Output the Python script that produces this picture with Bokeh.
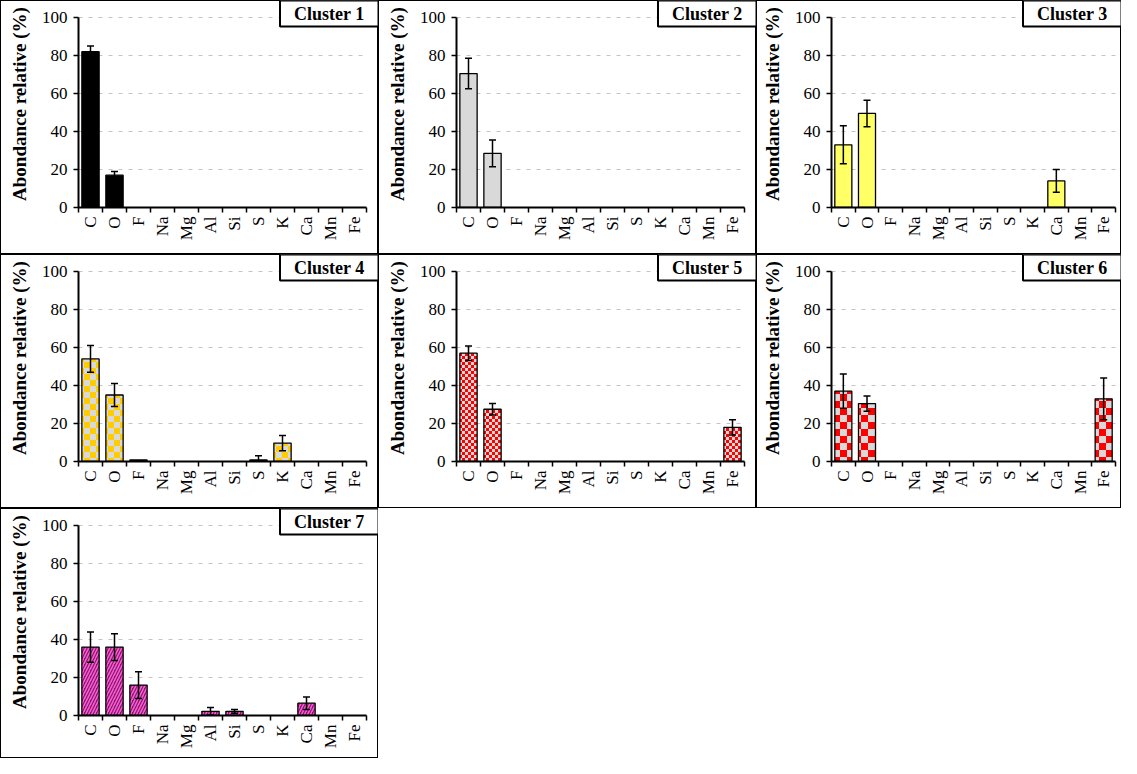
import math
from bokeh.plotting import figure
from bokeh.layouts import column, row
from bokeh.models import (Range1d, FixedTicker, ColumnDataSource, Whisker, TeeHead,
                          Label, CanvasTexture)
from bokeh.core.properties import value
from bokeh.embed import file_html
from bokeh.resources import INLINE

elements = ["C", "O", "F", "Na", "Mg", "Al", "Si", "S", "K", "Ca", "Mn", "Fe"]
cluster_names = ["Cluster 1", "Cluster 2", "Cluster 3", "Cluster 4",
                 "Cluster 5", "Cluster 6", "Cluster 7"]
y_ticks = [0, 20, 40, 60, 80, 100]

c1_values = [82, 17, 0, 0, 0, 0, 0, 0, 0, 0, 0, 0]
c1_errors = [3, 2, 0, 0, 0, 0, 0, 0, 0, 0, 0, 0]
c2_values = [70.5, 28.5, 0, 0, 0, 0, 0, 0, 0, 0, 0, 0]
c2_errors = [8, 7, 0, 0, 0, 0, 0, 0, 0, 0, 0, 0]
c3_values = [33, 49.5, 0, 0, 0, 0, 0, 0, 0, 14, 0, 0]
c3_errors = [10, 7, 0, 0, 0, 0, 0, 0, 0, 6, 0, 0]
c4_values = [54, 35, 0.8, 0, 0, 0, 0, 0.8, 9.7, 0, 0, 0]
c4_errors = [7, 6, 0, 0, 0, 0, 0, 2.2, 4, 0, 0, 0]
c5_values = [57, 27.5, 0, 0, 0, 0, 0, 0, 0, 0, 0, 18]
c5_errors = [3.8, 3, 0, 0, 0, 0, 0, 0, 0, 0, 0, 4]
c6_values = [37, 30.5, 0, 0, 0, 0, 0, 0, 0, 0, 0, 33]
c6_errors = [9, 4, 0, 0, 0, 0, 0, 0, 0, 0, 0, 11]
c7_values = [36, 36, 16, 0, 0, 2.2, 2.2, 0, 0, 6.5, 0, 0]
c7_errors = [8, 7, 7, 0, 0, 2, 1, 0, 0, 3.3, 0, 0]

all_values = [c1_values, c2_values, c3_values, c4_values, c5_values, c6_values, c7_values]
all_errors = [c1_errors, c2_errors, c3_errors, c4_errors, c5_errors, c6_errors, c7_errors]

FONT = "Liberation Serif"


def checker(color, cell):
    return CanvasTexture(code=f"""
const c = {cell};
ctx.canvas.width = 2 * c;
ctx.canvas.height = 2 * c;
ctx.fillStyle = "{color}";
ctx.fillRect(0, 0, c, c);
ctx.fillRect(c, c, c, c);
""")


bar_styles = [
    dict(fill_color="black"),
    dict(fill_color="#d9d9d9"),
    dict(fill_color="#ffff66"),
    dict(fill_color="#d9d9d9", hatch_pattern=value("chk"),
         hatch_extra={"chk": checker("#ffcc00", 6)}, hatch_color="#ffcc00", hatch_scale=12),
    dict(fill_color="#d9d9d9", hatch_pattern=value("chk"),
         hatch_extra={"chk": checker("#ff0000", 3)}, hatch_color="#ff0000", hatch_scale=6),
    dict(fill_color="#d9d9d9", hatch_pattern=value("chk"),
         hatch_extra={"chk": checker("#ff0000", 7)}, hatch_color="#ff0000", hatch_scale=14),
    dict(fill_color="#8e0c7c", hatch_pattern="/", hatch_color="#f262c4",
         hatch_scale=6, hatch_weight=1.6),
]

# panel geometry (pixels)
col_w = [378, 378, 365]
col_left = [78, 78, 75]
col_plot_w = [288, 288, 284]     # width used by the 12 categories
row_h = [254, 254, 250]
row_bottom = [47, 47, 43]
plot_h = 190                      # height used by 0..100


def make_panel(k):
    r, c = divmod(k, 3)
    W, H = col_w[c], row_h[r]
    n = len(elements)
    x_end = n * (W - col_left[c]) / col_plot_w[c]
    y_end = 100 * (H - row_bottom[r]) / plot_h
    p = figure(width=W, height=H, output_backend="svg", toolbar_location=None,
               x_range=Range1d(0, x_end), y_range=Range1d(0, y_end),
               min_border_left=col_left[c], min_border_right=0,
               min_border_top=0, min_border_bottom=row_bottom[r],
               title_location=None)
    p.outline_line_color = None
    p.background_fill_color = None
    p.border_fill_color = None
    p.styles = {"box-shadow": "inset 0 0 0 1px #000000"}

    # dashed horizontal guide lines, limited to the category area
    p.segment(x0=[0] * len(y_ticks), x1=[n] * len(y_ticks), y0=y_ticks, y1=y_ticks,
              line_color="#c4c4c4", line_dash="4 6", line_width=1)

    vals = all_values[k]
    errs = all_errors[k]
    xs = [i + 0.5 for i in range(n)]
    bx = [x for x, v in zip(xs, vals) if v > 0]
    bv = [v for v in vals if v > 0]
    p.vbar(x=bx, top=bv, bottom=0, width=0.72, line_color="black", line_width=1.3,
           **bar_styles[k])

    ex = [x for x, e in zip(xs, errs) if e > 0]
    up = [v + e for v, e in zip(vals, errs) if e > 0]
    lo = [max(v - e, 0) for v, e in zip(vals, errs) if e > 0]
    src = ColumnDataSource(dict(x=ex, upper=up, lower=lo))
    p.add_layout(Whisker(base="x", upper="upper", lower="lower", source=src,
                         level="overlay",
                         line_color="black", line_width=1.5,
                         upper_head=TeeHead(size=7, line_color="black", line_width=1.5),
                         lower_head=TeeHead(size=7, line_color="black", line_width=1.5)))

    # y axis
    p.yaxis.ticker = FixedTicker(ticks=y_ticks)
    p.yaxis.bounds = (0, 100)
    p.yaxis.axis_label = "Abondance relative (%)"
    p.yaxis.axis_label_text_font = FONT
    p.yaxis.axis_label_text_font_style = "bold"
    p.yaxis.axis_label_text_font_size = "19px"
    p.yaxis.axis_label_text_color = "black"
    p.yaxis.axis_label_standoff = 9
    p.yaxis.major_label_text_font = FONT
    p.yaxis.major_label_text_font_size = "17px"
    p.yaxis.major_label_text_color = "black"
    p.yaxis.major_label_standoff = 6
    p.yaxis.axis_line_color = "black"
    p.yaxis.axis_line_width = 2
    p.yaxis.major_tick_line_color = "black"
    p.yaxis.major_tick_line_width = 1.5
    p.yaxis.major_tick_out = 5
    p.yaxis.major_tick_in = 0
    p.yaxis.minor_tick_line_color = None

    # x axis: labels at category centres, ticks between categories
    p.xaxis.ticker = FixedTicker(ticks=xs, minor_ticks=list(range(n + 1)))
    p.xaxis.bounds = (0, n)
    p.xaxis.major_label_overrides = {x: el for x, el in zip(xs, elements)}
    p.xaxis.major_label_orientation = math.pi / 2
    p.xaxis.major_label_text_font = FONT
    p.xaxis.major_label_text_font_size = "17px"
    p.xaxis.major_label_text_color = "black"
    p.xaxis.major_label_standoff = 3
    p.xaxis.major_tick_line_color = None
    p.xaxis.minor_tick_line_color = "black"
    p.xaxis.minor_tick_line_width = 1.5
    p.xaxis.minor_tick_out = 5
    p.xaxis.minor_tick_in = 0
    p.xaxis.axis_line_color = "black"
    p.xaxis.axis_line_width = 2

    p.xgrid.grid_line_color = None
    p.ygrid.grid_line_color = None

    p.add_layout(Label(x=x_end, y=y_end, anchor="top_right", text=cluster_names[k],
                       text_font=FONT, text_font_style="bold", text_font_size="18px",
                       text_color="black", background_fill_color="white",
                       border_line_color="black", border_line_width=2,
                       padding=(14, 3)))
    return p


panels = [make_panel(k) for k in range(7)]
layout = column(row(*panels[0:3]), row(*panels[3:6]), row(panels[6]))

open("out.html", "w").write(file_html(layout, INLINE))
